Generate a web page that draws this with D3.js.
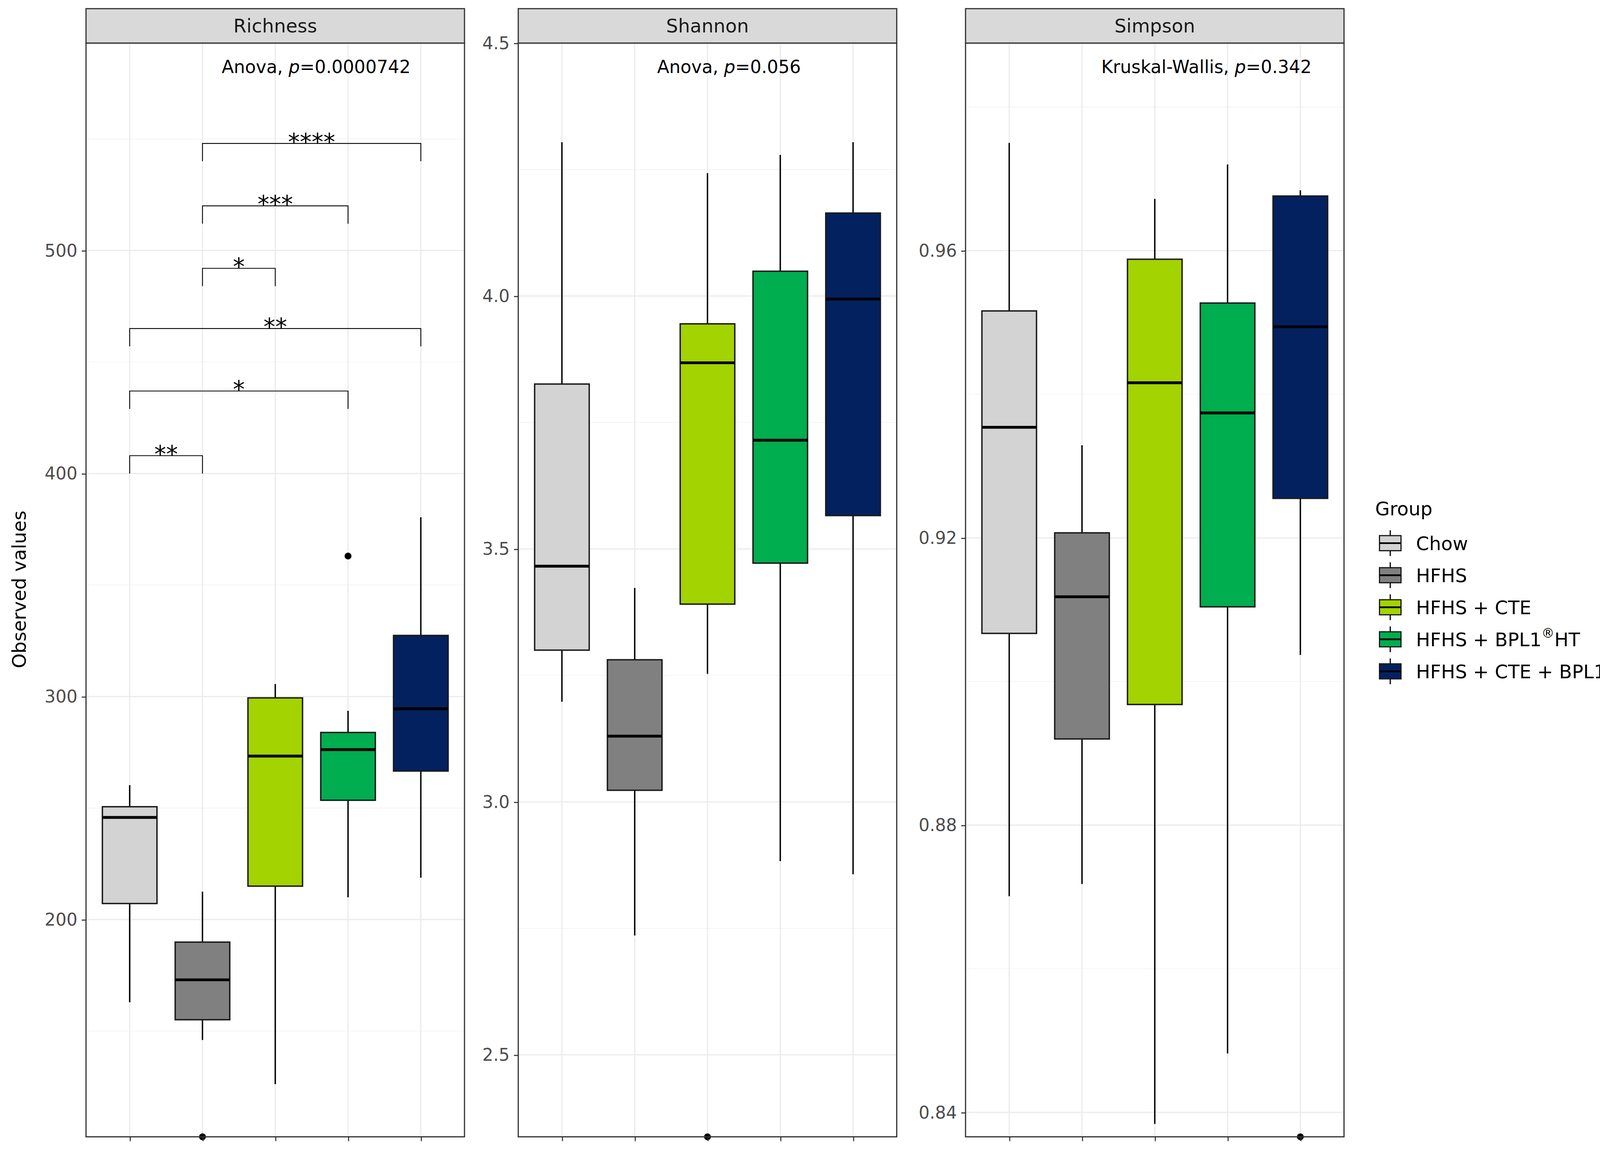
<!DOCTYPE html>
<html><head><meta charset="utf-8">
<script src="https://cdn.jsdelivr.net/npm/d3@7"></script>
<style>body{margin:0;background:#fff}</style></head>
<body><svg id="c"></svg>
<script>
const groups = ["Chow","HFHS","HFHS + CTE","HFHS + BPL1®HT","HFHS + CTE + BPL1®HT"];
const colors = ["#d3d3d3","#808080","#a3d300","#00ad4f","#03215f"];
// [lowerWhisker, Q1, median, Q3, upperWhisker]
const richness = [[162.9,207.2,245.8,250.6,260.3],[146,155.1,173,189.9,212.5],[126.2,215,273.3,299.4,305.6],[210,253.5,276.2,283.9,293.6],[218.8,266.6,294.5,327.4,380.4]];
const richnessOut = [[],[102.6],[],[363],[]];
const shannon = [[3.198,3.3,3.466,3.826,4.304],[2.736,3.023,3.13,3.281,3.423],[3.253,3.391,3.868,3.945,4.243],[2.883,3.472,3.715,4.049,4.279],[2.857,3.566,3.994,4.164,4.304]];
const shannonOut = [[],[],[2.338],[],[]];
const simpson = [[0.8701,0.9067,0.9354,0.9516,0.975],[0.8718,0.892,0.9118,0.9207,0.9329],[0.8384,0.8968,0.9416,0.9588,0.9672],[0.8482,0.9104,0.9374,0.9527,0.972],[0.9037,0.9255,0.9494,0.9676,0.9684]];
const simpsonOut = [[],[],[],[],[0.8366]];
const richTicks=[200,300,400,500], richMinor=[150,250,350,450,550];
const shanTicks=[2.5,3.0,3.5,4.0,4.5], shanMinor=[2.75,3.25,3.75,4.25];
const simpTicks=[0.84,0.88,0.92,0.96], simpMinor=[0.86,0.90,0.94,0.98];
const brackets=[[1,4,548,"****"],[1,3,520,"***"],[1,2,492,"*"],[0,4,465,"**"],[0,3,437,"*"],[0,1,408,"**"]];
const tests=[["Anova","0.0000742"],["Anova","0.056"],["Kruskal-Wallis","0.342"]];

const svg=d3.select("#c").attr("width",4316).attr("height",2951).attr("viewBox","0 0 1568 1072").style("font-family","DejaVu Sans, sans-serif");
const plotTop=40,plotBottom=1057;
const panels=[
 {name:"Richness",x0:80,data:richness,out:richnessOut,dom:[102.6,593],ticks:richTicks,minor:richMinor,fmt:d=>d,tx:214},
 {name:"Shannon",x0:482,data:shannon,out:shannonOut,dom:[2.338,4.5],ticks:shanTicks,minor:shanMinor,fmt:d3.format(".1f"),tx:196},
 {name:"Simpson",x0:898,data:simpson,out:simpsonOut,dom:[0.8366,0.9889],ticks:simpTicks,minor:simpMinor,fmt:d3.format(".2f"),tx:224}];
const W=352;
panels.forEach((p,pi)=>{
 const g=svg.append("g").attr("transform",`translate(${p.x0},0)`);
 const x=d3.scaleLinear().domain([0.4,5.6]).range([0,W]);
 const y=d3.scaleLinear().domain(p.dom).range([plotBottom,plotTop]);
 g.selectAll(".mn").data(p.minor).join("line").attr("x1",0).attr("x2",W).attr("y1",d=>y(d)).attr("y2",d=>y(d)).attr("stroke","#f2f2f2").attr("stroke-width",0.6);
 g.selectAll(".mj").data(p.ticks).join("line").attr("x1",0).attr("x2",W).attr("y1",d=>y(d)).attr("y2",d=>y(d)).attr("stroke","#ebebeb").attr("stroke-width",1.1);
 g.selectAll(".vx").data(groups).join("line").attr("x1",(d,i)=>x(i+1)).attr("x2",(d,i)=>x(i+1)).attr("y1",plotTop).attr("y2",plotBottom).attr("stroke","#ebebeb").attr("stroke-width",1.1);
 const bw=x(1.375)-x(1);
 p.data.forEach((b,i)=>{
  const cx=x(i+1);
  g.append("line").attr("x1",cx).attr("x2",cx).attr("y1",y(b[0])).attr("y2",y(b[4])).attr("stroke","#000").attr("stroke-width",1.3);
  g.append("rect").attr("x",cx-bw).attr("width",2*bw).attr("y",y(b[3])).attr("height",y(b[1])-y(b[3])).attr("fill",colors[i]).attr("stroke","#1a1a1a").attr("stroke-width",1.3);
  g.append("line").attr("x1",cx-bw).attr("x2",cx+bw).attr("y1",y(b[2])).attr("y2",y(b[2])).attr("stroke","#000").attr("stroke-width",2.6);
  p.out[i].forEach(o=>g.append("circle").attr("cx",cx).attr("cy",y(o)).attr("r",3.2).attr("fill","#000"));
 });
 if(pi===0){
  brackets.forEach(([a,b,v,s])=>{
   const yy=y(v),h=y(v-8)-yy;
   g.append("path").attr("d",`M${x(a+1)},${yy+h}V${yy}H${x(b+1)}V${yy+h}`).attr("fill","none").attr("stroke","#000").attr("stroke-width",0.8);
   g.append("text").attr("x",(x(a+1)+x(b+1))/2).attr("y",yy+6).attr("text-anchor","middle").attr("font-size",22).text(s);
  });
 }
 g.append("rect").attr("x",0).attr("y",plotTop).attr("width",W).attr("height",plotBottom-plotTop).attr("fill","none").attr("stroke","#333").attr("stroke-width",1.1);
 g.append("rect").attr("x",0).attr("y",8).attr("width",W).attr("height",plotTop-8).attr("fill","#d9d9d9").attr("stroke","#333").attr("stroke-width",1.1);
 g.append("text").attr("x",W/2).attr("y",30).attr("text-anchor","middle").attr("font-size",17.5).attr("fill","#1a1a1a").text(p.name);
 const t=g.append("text").attr("x",p.tx).attr("y",68).attr("text-anchor","middle").attr("font-size",16.5).attr("fill","#000");
 t.append("tspan").text(tests[pi][0]+", ");t.append("tspan").attr("font-style","italic").text("p");t.append("tspan").text("="+tests[pi][1]);
 const ax=g.append("g").call(d3.axisLeft(y).tickValues(p.ticks).tickFormat(p.fmt).tickSize(4).tickPadding(4));
 ax.select(".domain").remove();ax.selectAll("text").attr("font-size",16).attr("fill","#4d4d4d").style("font-family","DejaVu Sans, sans-serif");ax.selectAll("line").attr("stroke","#333");
 const bx=g.append("g").attr("transform",`translate(0,${plotBottom})`).call(d3.axisBottom(x).tickValues([1,2,3,4,5]).tickFormat("").tickSize(4));
 bx.select(".domain").remove();bx.selectAll("line").attr("stroke","#333");
});
svg.append("text").attr("transform","translate(24,548) rotate(-90)").attr("text-anchor","middle").attr("font-size",17.5).text("Observed values");
const lg=svg.append("g").attr("transform","translate(1279,0)");
lg.append("text").attr("x",0).attr("y",479).attr("font-size",17.5).text("Group");
groups.forEach((gname,i)=>{
 const cy=505+i*29.8;
 lg.append("line").attr("x1",14).attr("x2",14).attr("y1",cy-12).attr("y2",cy+12).attr("stroke","#000").attr("stroke-width",1.1);
 lg.append("rect").attr("x",4).attr("y",cy-7).attr("width",20).attr("height",14).attr("fill",colors[i]).attr("stroke","#1a1a1a").attr("stroke-width",1.1);
 lg.append("line").attr("x1",4).attr("x2",24).attr("y1",cy).attr("y2",cy).attr("stroke","#000").attr("stroke-width",1.6);
 const t=lg.append("text").attr("x",38).attr("y",cy+6.5).attr("font-size",17.5);
 const parts=gname.split("®");
 t.append("tspan").text(parts[0]);
 if(parts.length>1){t.append("tspan").attr("dy",-8).attr("font-size",12).text("®");t.append("tspan").attr("dy",8).text(parts[1]);}
});
</script></body></html>
